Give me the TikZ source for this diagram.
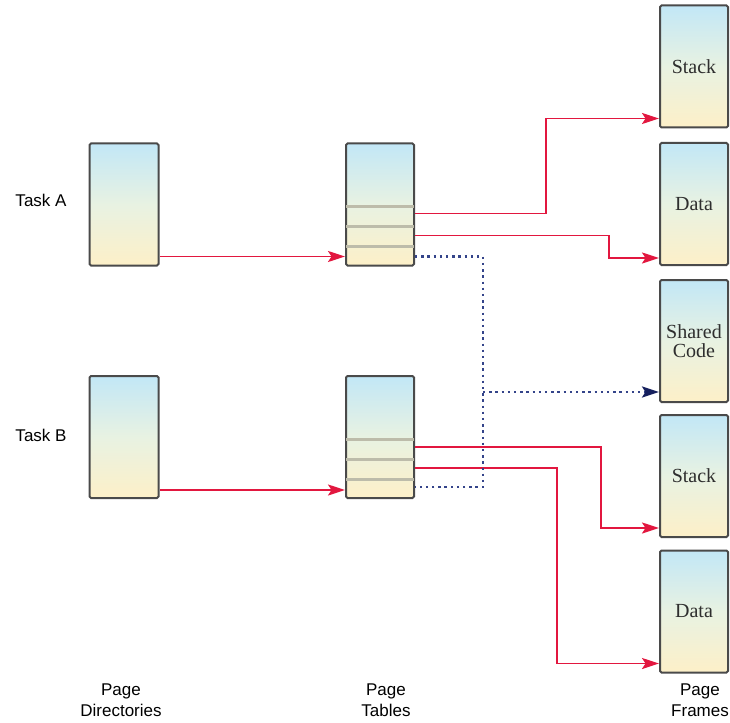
\documentclass[tikz,border=0pt]{standalone}
\usepackage{fontspec}
\setmainfont{Liberation Serif}
\newfontfamily\labelsans{Liberation Sans}
\usetikzlibrary{arrows.meta,calc}
\definecolor{boxtop}{HTML}{C2E7F6}
\definecolor{boxmid}{HTML}{E8F2E2}
\definecolor{boxbot}{HTML}{FDF0C8}
\definecolor{boxedge}{HTML}{4A4A4A}
\definecolor{rowline}{HTML}{BDBCAA}
\definecolor{redline}{HTML}{E2173F}
\definecolor{navyline}{HTML}{34448A}
\definecolor{navytip}{HTML}{16205E}
\definecolor{frametext}{HTML}{2E2E2E}
\tikzset{
  pagebox/.style={draw=boxedge, line width=2pt, rounded corners=1.5pt,
    top color=boxtop, bottom color=boxbot, middle color=boxmid,
    minimum width=69pt, minimum height=122pt, inner sep=0pt},
  framebox/.style={pagebox, minimum width=68pt, font=\fontsize{20}{21}\selectfont, text=frametext, align=center},
  rowsep/.style={draw=rowline, line width=3pt},
  redarrow/.style={draw=redline, line width=1.9pt, -{Stealth[length=17pt,width=11pt,inset=3.5pt]}},
  dotline/.style={draw=navyline, line width=2.6pt, dash pattern=on 2.4pt off 3.8pt},
  dotarrow/.style={dotline, -{Stealth[length=17pt,width=11pt,inset=3.5pt,fill=navytip,color=navytip]}},
  sidelabel/.style={font=\labelsans\fontsize{17}{21}\selectfont, align=center}
}
\begin{document}
\begin{tikzpicture}[x=1pt,y=-1pt]
\useasboundingbox (0,0) rectangle (730,722);
% page directories
\node[pagebox] (dirA) at (124,204.5) {};
\node[pagebox] (dirB) at (124,437) {};
% page tables
\node[pagebox, minimum width=68pt] (tabA) at (380,204.5) {};
\node[pagebox, minimum width=68pt] (tabB) at (380,437) {};
% page frames
\node[framebox] (stackA) at (694,66.5) {Stack};
\node[framebox] (dataA) at (694,204) {Data};
\node[framebox] (shared) at (694,341) {Shared\\[-2pt]Code};
\node[framebox] (stackB) at (694,476) {Stack};
\node[framebox] (dataB) at (694,611.5) {Data};
% rows in page tables
\foreach \t in {tabA,tabB}{
  \draw[rowsep] ([yshift=60pt,xshift=1pt]\t.south west) -- ([yshift=60pt,xshift=-1pt]\t.south east);
  \draw[rowsep] ([yshift=40pt,xshift=1pt]\t.south west) -- ([yshift=40pt,xshift=-1pt]\t.south east);
  \draw[rowsep] ([yshift=20pt,xshift=1pt]\t.south west) -- ([yshift=20pt,xshift=-1pt]\t.south east);
}
% directory -> table
\draw[redarrow] ([yshift=10pt]dirA.south east) -- ([yshift=10pt]tabA.south west);
\draw[redarrow] ([yshift=9pt]dirB.south east) -- ([yshift=9pt]tabB.south west);
% table -> frames
\draw[redarrow] ([yshift=53pt]tabA.south east) -- ++(131,0) |- ([yshift=10pt]stackA.south west);
\draw[redarrow] ([yshift=31pt]tabA.south east) -- ++(194,0) |- ([yshift=8pt]dataA.south west);
\draw[redarrow] ([yshift=52pt]tabB.south east) -- ++(186,0) |- ([yshift=10pt]stackB.south west);
\draw[redarrow] ([yshift=31pt]tabB.south east) -- ++(142,0) |- ([yshift=10pt]dataB.south west);
% shared code (dotted)
\coordinate (shin) at ([yshift=11pt]shared.south west);
\draw[dotline] ([yshift=10pt]tabA.south east) -- ++(68,0) coordinate (jn) |- ([yshift=12pt]tabB.south east);
\draw[dotarrow] (jn |- shin) -- (shin);
% labels
\node[sidelabel] (taskA) at (41,200) {Task A};
\node[sidelabel] (taskB) at (41,435) {Task B};
\node[sidelabel] (lblDir) at (121,700) {Page\\Directories};
\node[sidelabel] (lblTab) at (386,700) {Page\\Tables};
\node[sidelabel] (lblFr) at (700,700) {Page\\Frames};
\end{tikzpicture}
\end{document}
